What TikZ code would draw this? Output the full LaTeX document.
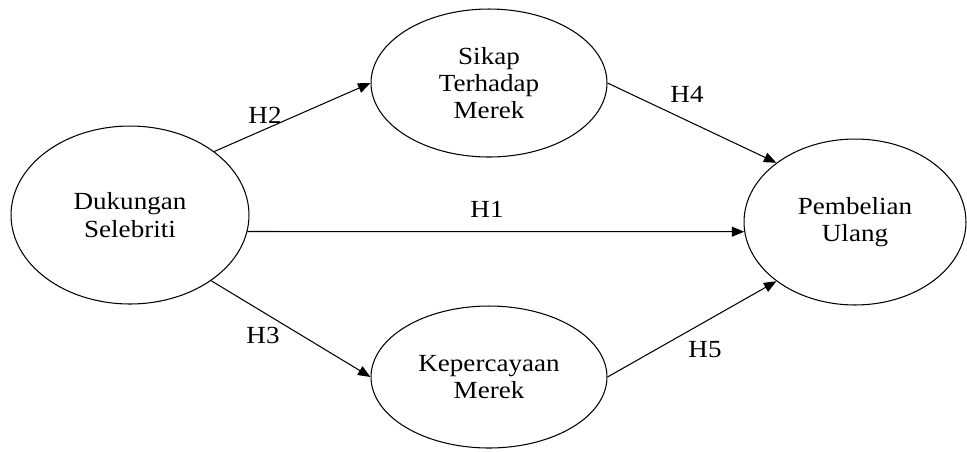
\documentclass[tikz,border=0pt]{standalone}
\usepackage{fontspec}
\setmainfont{Liberation Serif}[FakeStretch=1.1]
\usetikzlibrary{shapes,arrows.meta,positioning}

\tikzset{
    var/.style={draw, ellipse, line width=0.6pt, inner sep=0pt, align=center,
        font=\fontsize{14}{15.5}\selectfont},
    path/.style={line width=0.6pt, -{Triangle[length=0.25cm,width=0.2cm]}},
    hyp/.style={font=\fontsize{14}{15.5}\selectfont}
}

\begin{document}
\begin{tikzpicture}[x=0.02cm,y=-0.02cm]
    \useasboundingbox (0,0) rectangle (967,451);

    % variabel
    \node[var, minimum width=4.76cm, minimum height=3.56cm] (dukungan) at (130,215) {Dukungan\\Selebriti};
    \node[var, minimum width=4.72cm, minimum height=2.96cm] (sikap) at (489,83) {Sikap\\Terhadap\\Merek};
    \node[var, minimum width=4.72cm, minimum height=2.84cm] (percaya) at (489,377) {Kepercayaan\\Merek};
    \node[var, minimum width=4.44cm, minimum height=3.32cm] (beli) at (855,222) {Pembelian\\Ulang};

    % hipotesis
    \draw[path] (dukungan.37.6) -- (sikap.west);
    \draw[path] (dukungan.-39.7) -- (percaya.west);
    \draw[path] (dukungan.-8.3) -- (beli.185);
    \draw[path] (sikap.east) -- (beli.143.6);
    \draw[path] (percaya.east) -- (beli.217.8);

    \node[hyp] (h1) at (487,209) {H1};
    \node[hyp] (h2) at (265,115) {H2};
    \node[hyp] (h3) at (263,335) {H3};
    \node[hyp] (h4) at (687,94) {H4};
    \node[hyp] (h5) at (705,350) {H5};

\end{tikzpicture}
\end{document}
